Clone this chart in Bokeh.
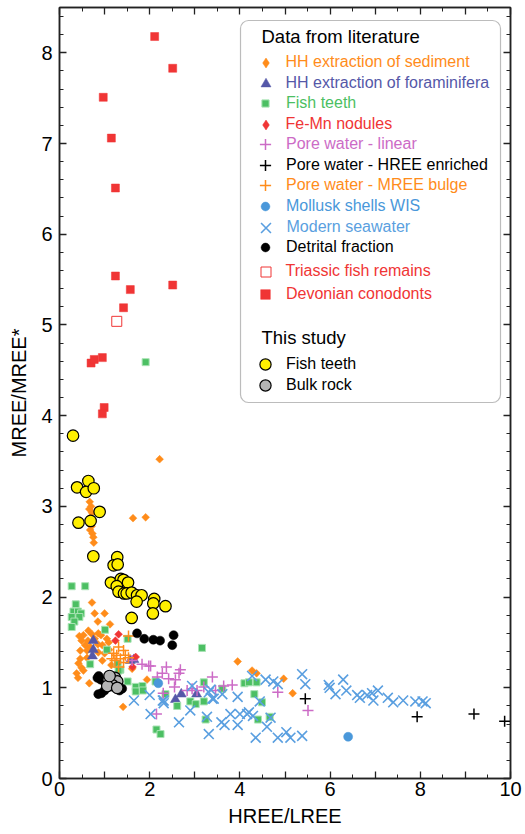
import math
from bokeh.plotting import figure
from bokeh.models import (FixedTicker, LinearAxis, Legend, LegendItem, Label,
                          BoxAnnotation, Range1d)
from bokeh.embed import file_html
from bokeh.resources import INLINE

# ---------------- data ----------------
hh_sed_x = [0.64,0.53,0.72,0.86,0.49,0.63,0.78,0.92,1.05,1.09,0.57,0.68,0.85,0.95,0.46,0.61,0.86,0.46,0.61,0.42,
            0.49,0.53,0.38,0.41,0.66,0.44,0.72,0.78,1.00,0.85,1.12,0.67,0.70,0.66,0.72,0.69,0.74,0.71,0.68,0.73,
            0.75,0.76,2.22,1.63,1.91,3.95,4.27,4.37,4.97,5.17,1.94,1.41,1.61,1.00,1.10,0.95,1.15]
hh_sed_y = [1.63,1.58,1.59,1.60,1.52,1.52,1.54,1.58,1.54,1.50,1.47,1.45,1.48,1.47,1.41,1.41,1.39,1.32,1.33,1.27,
            1.22,1.19,1.16,1.11,1.05,1.57,1.94,1.82,1.82,1.73,1.70,3.05,3.00,2.97,2.93,2.88,2.83,2.78,2.74,2.70,
            2.66,2.60,3.52,2.87,2.88,1.29,1.19,1.16,1.10,0.94,1.09,0.79,1.21,1.38,1.42,1.30,1.25]

hh_foram_x = [0.75,0.75,0.73,1.57,1.65,2.57,2.70,3.04]
hh_foram_y = [1.52,1.42,1.35,1.30,1.31,0.87,0.93,0.93]

fish_lit_x = [1.91,0.27,0.57,0.36,0.31,0.41,0.48,0.27,0.44,0.33,0.27,1.01,1.05,0.68,1.51,1.29,1.35,1.51,1.69,1.84,
              1.69,1.85,1.01,2.13,3.16,2.35,2.61,2.90,3.02,3.20,3.20,3.61,4.10,4.20,4.37,4.32,4.49,4.40,4.66,3.24,
              2.15,2.24,1.31]
fish_lit_y = [4.59,2.12,2.12,1.92,1.84,1.84,1.82,1.78,1.78,1.73,1.67,1.64,1.42,1.26,1.54,1.26,1.20,1.07,1.01,1.02,
              0.96,0.97,1.05,1.07,1.44,0.93,0.80,0.85,0.82,0.85,1.06,0.99,1.05,1.06,1.06,0.93,0.84,0.65,0.68,0.65,
              0.54,0.49,1.19]

femn_x = [1.31,1.24,1.69,1.62]
femn_y = [1.59,1.52,1.34,1.23]

pw_lin_x = [1.61,1.83,1.98,2.02,2.37,2.68,2.28,2.17,2.42,2.57,2.65,3.39,2.55,2.83,2.94,3.05,3.20,3.46,3.64,3.83,
            2.30,2.15,4.84,5.51]
pw_lin_y = [1.30,1.26,1.24,1.24,1.23,1.20,1.16,1.12,1.10,1.09,1.16,1.12,1.01,0.97,0.99,0.97,1.01,0.97,1.02,1.03,
            0.94,0.71,0.95,0.75]

pw_hree_x = [5.45,7.93,9.19,9.87]
pw_hree_y = [0.88,0.68,0.71,0.63]

pw_mree_x = [1.53,1.31,1.42,1.20,1.27,1.46,1.35,1.23,1.42,1.31,1.16,1.53]
pw_mree_y = [1.57,1.45,1.41,1.38,1.36,1.36,1.32,1.30,1.28,1.23,1.32,1.33]

mollusk_x = [2.19,6.40]
mollusk_y = [1.05,0.46]

seawater_x = [4.27,4.57,4.74,4.84,5.38,5.45,5.97,5.99,6.12,6.29,6.36,6.60,6.66,6.82,6.93,6.96,7.06,7.28,7.40,7.62,
              7.89,8.05,8.12,3.35,3.42,3.95,4.44,4.68,3.27,3.59,3.66,3.79,3.95,4.00,4.16,4.29,4.60,4.84,5.03,5.12,
              5.38,4.35,3.31,4.20,2.94,2.31,2.31,3.31,3.39,3.61,2.90,2.65,2.02,1.65,2.00,2.29]
seawater_y = [1.13,1.09,1.07,1.04,1.15,1.04,1.03,1.00,0.93,1.09,0.97,0.92,0.89,0.92,0.94,0.86,0.97,0.89,0.84,0.86,
              0.85,0.85,0.83,0.98,0.88,0.90,0.85,0.67,0.68,0.62,0.59,0.71,0.59,0.71,0.71,0.69,0.57,0.45,0.51,0.45,
              0.47,0.45,0.49,0.73,1.02,0.86,0.83,0.95,0.88,0.93,0.75,0.62,0.71,0.86,0.92,0.86]

detrital_x = [1.72,1.88,2.08,2.23,2.50,2.53,0.87,0.91,0.86,0.93,1.00,1.33,1.39,1.02,0.84]
detrital_y = [1.60,1.54,1.53,1.52,1.47,1.58,1.13,1.09,0.93,0.94,0.97,0.97,0.99,1.05,1.11]

triassic_x = [1.27]
triassic_y = [5.04]

devonian_x = [2.11,2.51,0.97,1.15,1.24,1.24,1.57,2.51,1.42,0.70,0.77,0.95,0.99,0.95]
devonian_y = [8.18,7.83,7.51,7.06,6.51,5.54,5.39,5.44,5.19,4.58,4.62,4.64,4.09,4.02]

study_teeth_x = [0.30,0.39,0.64,0.59,0.76,0.89,0.42,0.69,0.75,1.28,1.20,1.29,1.14,1.36,1.42,1.27,1.52,1.31,1.43,1.49,
                 1.60,1.72,1.82,1.71,2.10,2.08,2.35,2.07,1.60]
study_teeth_y = [3.78,3.21,3.28,3.16,3.20,2.94,2.82,2.84,2.45,2.44,2.35,2.36,2.16,2.20,2.19,2.12,2.16,2.06,2.04,2.04,
                 2.05,2.02,2.02,1.95,1.98,1.93,1.90,1.82,1.77]

bulk_x = [1.09,1.23,1.28,1.17,1.06,1.28,1.11]
bulk_y = [1.09,1.11,1.07,1.03,1.02,1.00,1.13]

x_ticks = [0, 1, 2, 3, 4, 5, 6, 7, 8, 9, 10]
y_ticks = [0, 1, 2, 3, 4, 5, 6, 7, 8]

# ---------------- figure ----------------
FONT = "Liberation Sans"
W, H = 524, 834
FRAME_LEFT, FRAME_TOP, FRAME_RIGHT, FRAME_BOTTOM = 59, 7, 510, 778
p = figure(width=W, height=H, output_backend="svg", toolbar_location=None,
           x_range=Range1d(0, 10), y_range=Range1d(0, 8.5),
           min_border_left=FRAME_LEFT, min_border_right=W - FRAME_RIGHT,
           min_border_top=FRAME_TOP, min_border_bottom=H - FRAME_BOTTOM,
           x_axis_label="HREE/LREE", y_axis_label="MREE/MREE*")
p.grid.visible = False
p.outline_line_color = "#222222"
p.outline_line_width = 1.5
p.background_fill_color = "white"

xt = FixedTicker(ticks=x_ticks, minor_ticks=[i * 0.5 for i in range(21)])
yt = FixedTicker(ticks=y_ticks, minor_ticks=[round(i * 0.2, 1) for i in range(43)])

def style_axis(ax, labels=True):
    ax.axis_line_color = "#222222"
    ax.axis_line_width = 1.5
    ax.major_tick_line_color = "#222222"
    ax.minor_tick_line_color = "#222222"
    ax.major_tick_line_width = 1.3
    ax.minor_tick_line_width = 1.0
    ax.major_tick_in = 7
    ax.major_tick_out = 0
    ax.minor_tick_in = 4
    ax.minor_tick_out = 0
    ax.major_label_text_font = FONT
    ax.axis_label_text_font = FONT
    ax.axis_label_text_font_style = "normal"
    ax.axis_label_text_color = "black"
    ax.major_label_text_color = "black"
    if labels:
        ax.major_label_text_font_size = "20px"
        ax.axis_label_text_font_size = "20px"
    else:
        ax.major_label_text_font_size = "0px"
        ax.major_label_standoff = 0

xa = p.xaxis[0]
xa.ticker = xt
xa.major_label_overrides = {t: ("" if t % 2 else str(t)) for t in x_ticks}
style_axis(xa)
xa.major_label_standoff = 3
xa.axis_label_standoff = 6

ya = p.yaxis[0]
ya.ticker = yt
style_axis(ya)
ya.major_label_standoff = 7
ya.axis_label_standoff = 8

top = LinearAxis(ticker=xt)
style_axis(top, labels=False)
top.major_label_overrides = {t: "" for t in x_ticks}
p.add_layout(top, "above")
right = LinearAxis(ticker=yt)
style_axis(right, labels=False)
right.major_label_overrides = {t: "" for t in y_ticks}
p.add_layout(right, "right")

ORANGE = "#FF8C1A"
RED = "#F03535"
Q = math.pi / 4
series = [
    # label, x, y, marker, angle, fill, line, size, lw, text color, legend marker, legend size
    ("HH extraction of sediment", hh_sed_x, hh_sed_y, "square", Q, ORANGE, ORANGE, 5.5, 0.5, ORANGE, "diamond", 10),
    ("HH extraction of foraminifera", hh_foram_x, hh_foram_y, "triangle", 0, "#5558A8", "#5558A8", 10, 0.5, "#5558A8", None, 10),
    ("Fish teeth", fish_lit_x, fish_lit_y, "square", 0, "#4CBF63", "#A9E3B4", 7, 1.0, "#4CBF63", None, 7),
    ("Fe-Mn nodules", femn_x, femn_y, "square", Q, RED, RED, 5.5, 0.5, RED, "diamond", 10),
    ("Pore water - linear", pw_lin_x, pw_lin_y, "cross", 0, None, "#CC6BC6", 11, 1.5, "#CC6BC6", None, 11),
    ("Pore water - HREE enriched", pw_hree_x, pw_hree_y, "cross", 0, None, "black", 11, 1.5, "black", None, 11),
    ("Pore water - MREE bulge", pw_mree_x, pw_mree_y, "cross", 0, None, ORANGE, 11, 1.5, ORANGE, None, 11),
    ("Mollusk shells WIS", mollusk_x, mollusk_y, "circle", 0, "#4A98DA", "#4A98DA", 9, 0.5, "#4A98DA", None, 9),
    ("Modern seawater", seawater_x, seawater_y, "x", 0, None, "#5A9FE0", 14, 1.6, "#5A9FE0", None, 14),
    ("Detrital fraction", detrital_x, detrital_y, "circle", 0, "black", "black", 9, 0.5, "black", None, 9),
    ("Triassic fish remains", triassic_x, triassic_y, "square", 0, None, RED, 10, 1.0, RED, None, 10),
    ("Devonian conodonts", devonian_x, devonian_y, "square", 0, RED, RED, 8, 0.5, RED, None, 9.5),
]
study = [
    ("Fish teeth", study_teeth_x, study_teeth_y, "circle", 0, "#FFEF00", "black", 11.5, 1.2, "black", None, 11),
    ("Bulk rock", bulk_x, bulk_y, "circle", 0, "#B4B4B4", "black", 11.5, 1.2, "black", None, 11),
]

# legend layout (page pixel centres)
legend_y_lit = [62, 83, 103, 124, 144, 165, 185, 206, 227, 247, 271, 294]
legend_y_study = [364, 385]
GLYPH_CX, TEXT_X = 265, 286

def add_legend(label, renderer, color, yc, lsize):
    g = int(round(lsize / 0.4))
    lg = Legend(items=[LegendItem(label=label, renderers=[renderer])],
                location=(GLYPH_CX - FRAME_LEFT - g / 2, FRAME_BOTTOM - yc - g / 2),
                glyph_width=g, glyph_height=g, label_height=g,
                label_standoff=int(round(TEXT_X - (GLYPH_CX + g / 2))),
                padding=0, margin=0, spacing=0,
                border_line_color=None, background_fill_alpha=0,
                inactive_fill_alpha=0,
                label_text_font=FONT, label_text_font_size="16px", label_text_color=color,
                label_text_baseline="middle")
    p.add_layout(lg, "center")

box = BoxAnnotation(left=240 - FRAME_LEFT, right=500 - FRAME_LEFT,
                    top=FRAME_BOTTOM - 20, bottom=FRAME_BOTTOM - 402,
                    left_units="screen", right_units="screen", top_units="screen", bottom_units="screen",
                    fill_color="white", fill_alpha=1.0, line_color="#222222", line_width=1.2,
                    border_radius=8, level="annotation")
p.add_layout(box)

for group, ys_leg in ((series, legend_y_lit), (study, legend_y_study)):
    for (label, xs, ys, marker, ang, fill, line, size, lw, tcol, lmarker, lsize), yc in zip(group, ys_leg):
        r = p.scatter(xs, ys, marker=marker, angle=ang, size=size, fill_color=fill,
                      line_color=line, line_width=lw)
        if lmarker is not None:
            # hidden twin used only as the legend swatch (legend glyphs ignore the marker angle)
            r = p.scatter(xs, ys, marker=lmarker, size=lsize, fill_color=fill,
                          line_color=line, line_width=lw, visible=False)
        add_legend(label, r, tcol, yc, lsize)

for txt, yc in [("Data from literature", 36), ("This study", 337)]:
    p.add_layout(Label(x=261 - FRAME_LEFT, y=FRAME_BOTTOM - yc, x_units="screen", y_units="screen",
                       text=txt, text_font=FONT, text_font_size="18.5px", text_color="black",
                       text_baseline="middle"))

open("out.html", "w").write(file_html(p, INLINE))
